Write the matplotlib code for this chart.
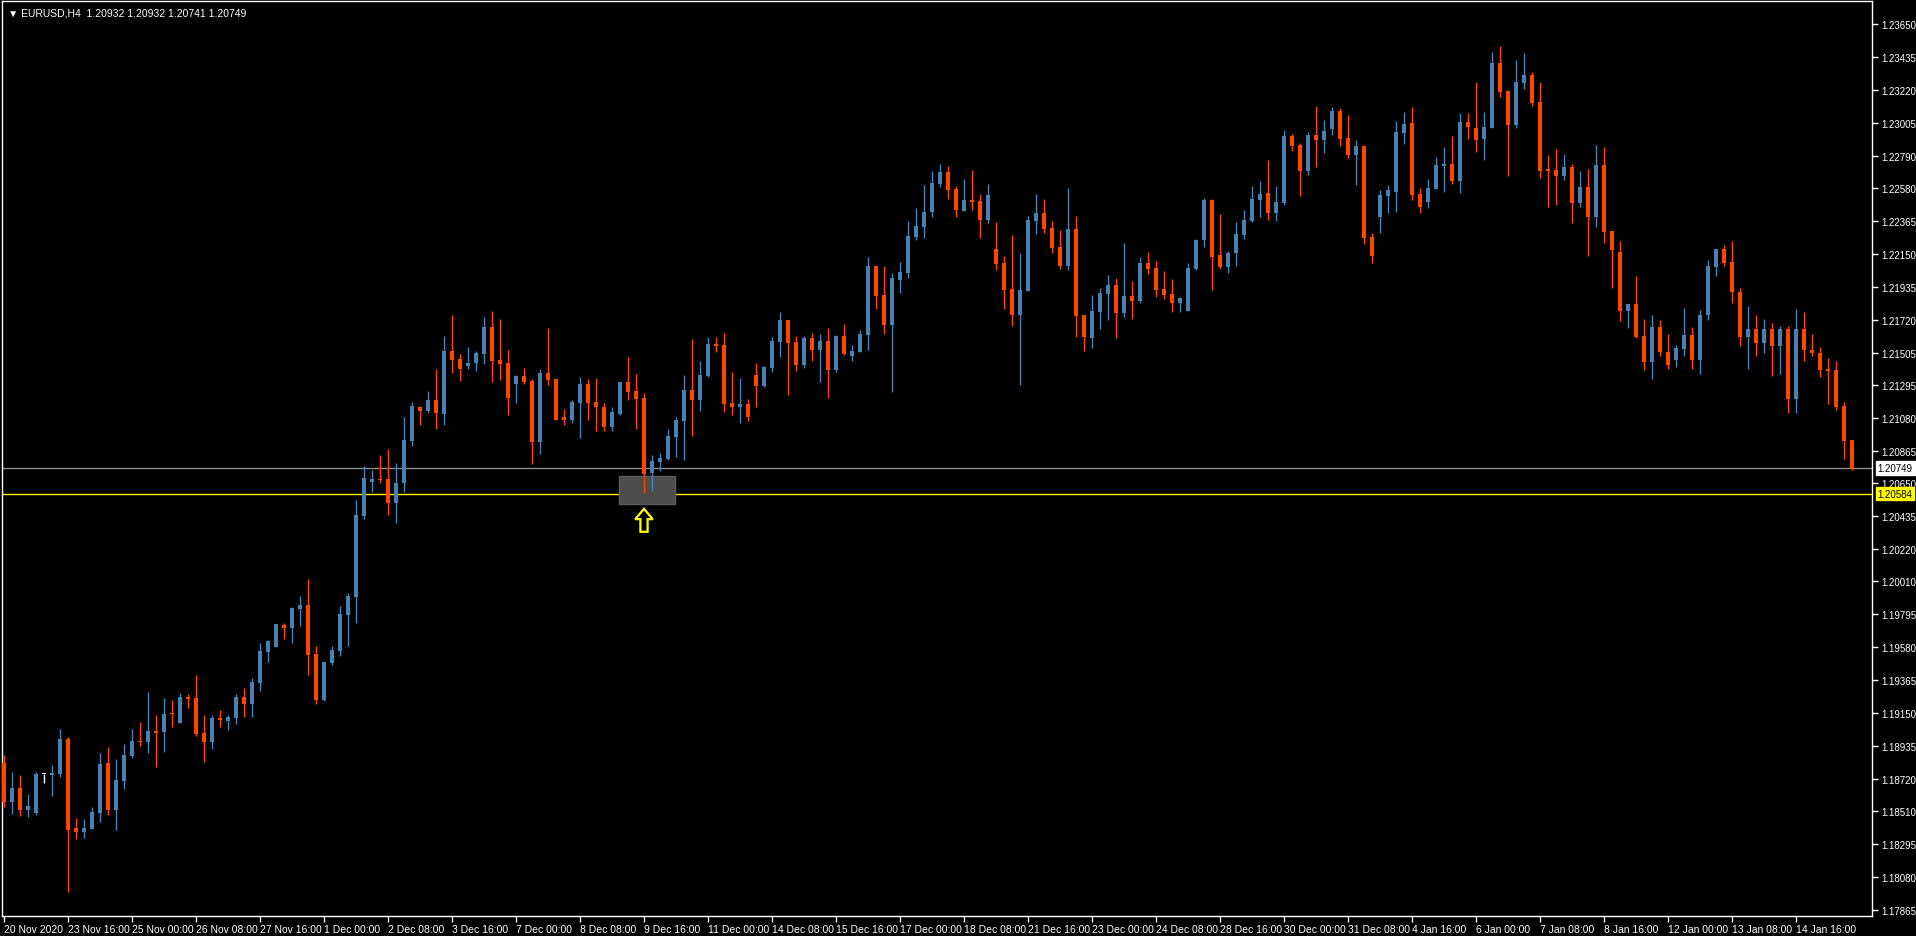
import matplotlib
matplotlib.use("Agg")
import matplotlib.pyplot as plt
import matplotlib.transforms as mtransforms
from matplotlib.patches import Rectangle, Polygon

title = "EURUSD,H4  1.20932 1.20932 1.20741 1.20749"

O = [1.18822,1.18570,1.18659,1.18517,1.18496,1.18751,1.18746,1.18751,1.18979,1.18398,
1.18374,1.18391,1.18496,1.18822,1.18517,1.18707,1.18870,1.18966,1.18960,1.19032,
1.19025,1.19143,1.19084,1.19254,1.19247,1.19019,1.18960,1.19117,1.19097,1.19117,
1.19254,1.19208,1.19345,1.19548,1.19580,1.19724,1.19705,1.19829,1.19855,1.19535,
1.19234,1.19476,1.19554,1.19790,1.19907,1.20437,1.20659,1.20679,1.20679,1.20522,
1.20653,1.20927,1.21149,1.21123,1.21195,1.21104,1.21515,1.21463,1.21417,1.21437,
1.21496,1.21672,1.21457,1.21437,1.21300,1.21352,1.21319,1.20920,1.21372,1.21332,
1.21084,1.21064,1.21175,1.21300,1.21182,1.21149,1.21019,1.21104,1.21313,1.21254,
1.21208,1.20718,1.20790,1.20809,1.20953,1.21058,1.21260,1.21195,1.21352,1.21561,
1.21554,1.21175,1.21149,1.21169,1.21358,1.21286,1.21404,1.21574,1.21718,1.21574,
1.21424,1.21600,1.21522,1.21581,1.21391,1.21613,1.21483,1.21509,1.21620,1.22071,
1.21881,1.21685,1.21979,1.22025,1.22261,1.22326,1.22424,1.22607,1.22686,1.22574,
1.22433,1.22503,1.22496,1.22372,1.22183,1.22091,1.21921,1.21751,1.21908,1.22365,
1.22418,1.22320,1.22196,1.22071,1.22313,1.21751,1.21601,1.21771,1.21888,1.21947,
1.21764,1.21875,1.21843,1.22091,1.22058,1.21921,1.21888,1.21830,1.21777,1.22052,
1.22241,1.22503,1.22143,1.22065,1.22156,1.22274,1.22365,1.22503,1.22548,1.22418,
1.22483,1.22921,1.22862,1.22692,1.22928,1.22895,1.22967,1.23084,1.22908,1.22797,
1.22856,1.22261,1.22392,1.22529,1.22555,1.22941,1.23006,1.22542,1.22490,1.22575,
1.22725,1.22738,1.22627,1.23012,1.22973,1.22901,1.22973,1.23398,1.23215,1.22993,
1.23267,1.23320,1.23143,1.22705,1.22699,1.22659,1.22718,1.22483,1.22588,1.22391,
1.22731,1.22300,1.22163,1.21777,1.21823,1.21614,1.21444,1.21672,1.21509,1.21457,
1.21529,1.21620,1.21457,1.21750,1.22062,1.22183,1.22097,1.21902,1.21605,1.21660,
1.21566,1.21660,1.21551,1.21660,1.21199,1.21660,1.21523,1.21504,1.21398,1.21390,
1.21156,1.20932]

H = [1.18875,1.18761,1.18744,1.18620,1.18761,1.18751,1.18809,1.19045,1.18990,1.18463,
1.18456,1.18535,1.18888,1.18927,1.18849,1.18947,1.19045,1.19091,1.19287,1.19138,
1.19247,1.19234,1.19280,1.19273,1.19398,1.19136,1.19136,1.19169,1.19136,1.19273,
1.19312,1.19378,1.19606,1.19626,1.19731,1.19737,1.19842,1.19914,1.20025,1.19587,
1.19482,1.19587,1.19848,1.19933,1.20541,1.20764,1.20737,1.20836,1.20875,1.20783,
1.21084,1.21182,1.21156,1.21254,1.21398,1.21613,1.21751,1.21496,1.21541,1.21515,
1.21738,1.21777,1.21725,1.21522,1.21358,1.21404,1.21332,1.21398,1.21666,1.21332,
1.21136,1.21195,1.21345,1.21332,1.21339,1.21175,1.21149,1.21313,1.21476,1.21365,
1.21241,1.20836,1.20849,1.21006,1.21084,1.21358,1.21594,1.21450,1.21607,1.21607,
1.21633,1.21378,1.21339,1.21201,1.21437,1.21417,1.21607,1.21770,1.21718,1.21613,
1.21613,1.21633,1.21626,1.21666,1.21620,1.21692,1.21554,1.21653,1.22130,1.22077,
1.22071,1.22025,1.22097,1.22365,1.22450,1.22601,1.22692,1.22738,1.22725,1.22594,
1.22640,1.22699,1.22542,1.22607,1.22359,1.22137,1.22274,1.22156,1.22398,1.22542,
1.22509,1.22366,1.22307,1.22581,1.22398,1.21751,1.21882,1.21928,1.22013,1.21993,
1.22222,1.21973,1.22130,1.22163,1.22104,1.22039,1.21986,1.21869,1.22091,1.22248,
1.22516,1.22509,1.22411,1.22169,1.22359,1.22437,1.22594,1.22627,1.22764,1.22594,
1.22960,1.22934,1.22875,1.22947,1.23117,1.23026,1.23111,1.23104,1.23058,1.22895,
1.22862,1.22287,1.22568,1.22601,1.23019,1.23078,1.23111,1.22581,1.22640,1.22784,
1.22849,1.22921,1.23071,1.23071,1.23274,1.23078,1.23470,1.23509,1.23222,1.23418,
1.23463,1.23339,1.23274,1.22797,1.22836,1.22803,1.22738,1.22692,1.22705,1.22862,
1.22849,1.22300,1.22235,1.21823,1.22006,1.21725,1.21751,1.21718,1.21627,1.21555,
1.21797,1.21672,1.21783,1.22109,1.22183,1.22207,1.22234,1.21925,1.21808,1.21750,
1.21722,1.21699,1.21679,1.21679,1.21789,1.21769,1.21625,1.21543,1.21468,1.21449,
1.21179,1.20932]

L = [1.18535,1.18489,1.18478,1.18472,1.18485,1.18694,1.18609,1.18733,1.17977,1.18326,
1.18332,1.18391,1.18437,1.18483,1.18387,1.18653,1.18855,1.18936,1.18888,1.18796,
1.18894,1.19060,1.19084,1.19182,1.19001,1.18829,1.18914,1.19058,1.19038,1.19077,
1.19123,1.19123,1.19293,1.19482,1.19580,1.19633,1.19606,1.19718,1.19397,1.19208,
1.19228,1.19463,1.19522,1.19587,1.19737,1.20417,1.20594,1.20653,1.20443,1.20391,
1.20594,1.20894,1.21032,1.21110,1.21006,1.21032,1.21372,1.21319,1.21398,1.21385,
1.21430,1.21313,1.21326,1.21097,1.21175,1.21300,1.20777,1.20842,1.21293,1.21064,
1.21032,1.21045,1.20947,1.21064,1.20992,1.20992,1.20992,1.21097,1.21195,1.21006,
1.20587,1.20600,1.20731,1.20803,1.20822,1.20803,1.20960,1.21123,1.21345,1.21509,
1.21117,1.21097,1.21045,1.21058,1.21149,1.21280,1.21378,1.21476,1.21228,1.21385,
1.21404,1.21450,1.21313,1.21208,1.21378,1.21489,1.21450,1.21509,1.21522,1.21790,
1.21626,1.21247,1.21894,1.21992,1.22241,1.22254,1.22391,1.22588,1.22509,1.22391,
1.22433,1.22437,1.22254,1.22352,1.22045,1.21790,1.21679,1.21294,1.21908,1.22281,
1.22287,1.22156,1.22052,1.22045,1.21607,1.21516,1.21535,1.21660,1.21718,1.21601,
1.21738,1.21725,1.21830,1.22019,1.21869,1.21856,1.21771,1.21771,1.21777,1.22045,
1.22195,1.21914,1.22052,1.22025,1.22071,1.22248,1.22359,1.22392,1.22372,1.22365,
1.22470,1.22823,1.22529,1.22666,1.22718,1.22810,1.22928,1.22856,1.22777,1.22601,
1.22215,1.22091,1.22287,1.22418,1.22424,1.22869,1.22503,1.22418,1.22450,1.22575,
1.22555,1.22607,1.22548,1.22901,1.22816,1.22764,1.22973,1.23176,1.22659,1.22973,
1.23228,1.23117,1.22646,1.22457,1.22470,1.22633,1.22352,1.22457,1.22136,1.22326,
1.22222,1.21927,1.21712,1.21666,1.21600,1.21391,1.21332,1.21483,1.21398,1.21411,
1.21483,1.21398,1.21365,1.21719,1.22008,1.22074,1.21828,1.21547,1.21398,1.21484,
1.21504,1.21355,1.21363,1.21109,1.21109,1.21453,1.21484,1.21347,1.21172,1.21133,
1.20812,1.20741]

C = [1.18570,1.18659,1.18517,1.18541,1.18751,1.18751,1.18757,1.18979,1.18387,1.18374,
1.18398,1.18502,1.18816,1.18517,1.18711,1.18875,1.18966,1.18962,1.19032,1.19021,
1.19143,1.19140,1.19254,1.19243,1.19012,1.18960,1.19117,1.19104,1.19123,1.19254,
1.19208,1.19352,1.19554,1.19620,1.19731,1.19705,1.19835,1.19855,1.19528,1.19234,
1.19482,1.19561,1.19796,1.19914,1.20443,1.20685,1.20679,1.20672,1.20522,1.20653,
1.20934,1.21156,1.21123,1.21195,1.21110,1.21515,1.21457,1.21398,1.21437,1.21502,
1.21672,1.21450,1.21430,1.21208,1.21352,1.21313,1.20920,1.21372,1.21326,1.21064,
1.21064,1.21182,1.21300,1.21175,1.21149,1.21019,1.21117,1.21313,1.21247,1.21202,
1.20711,1.20796,1.20816,1.20960,1.21064,1.21260,1.21195,1.21358,1.21561,1.21548,
1.21169,1.21149,1.21169,1.21084,1.21286,1.21411,1.21581,1.21718,1.21568,1.21424,
1.21600,1.21522,1.21581,1.21391,1.21613,1.21496,1.21515,1.21626,1.22071,1.21875,
1.21685,1.21992,1.22032,1.22269,1.22333,1.22424,1.22614,1.22686,1.22568,1.22437,
1.22503,1.22492,1.22372,1.22536,1.22085,1.21915,1.21751,1.21915,1.22372,1.22418,
1.22313,1.22189,1.22071,1.22313,1.21745,1.21607,1.21777,1.21895,1.21947,1.21764,
1.21875,1.21843,1.22091,1.22052,1.21915,1.21882,1.21830,1.21862,1.22058,1.22241,
1.22503,1.22130,1.22065,1.22156,1.22280,1.22372,1.22509,1.22542,1.22418,1.22490,
1.22921,1.22856,1.22692,1.22928,1.22895,1.22954,1.23084,1.22901,1.22797,1.22856,
1.22254,1.22137,1.22535,1.22568,1.22947,1.22999,1.22535,1.22457,1.22581,1.22731,
1.22738,1.22627,1.23012,1.22980,1.22895,1.22980,1.23398,1.23209,1.22993,1.23274,
1.23320,1.23137,1.22692,1.22692,1.22659,1.22718,1.22483,1.22588,1.22391,1.22731,
1.22293,1.22176,1.21777,1.21823,1.21607,1.21444,1.21672,1.21509,1.21424,1.21535,
1.21620,1.21457,1.21751,1.22070,1.22183,1.22093,1.21898,1.21605,1.21660,1.21566,
1.21660,1.21551,1.21660,1.21199,1.21660,1.21519,1.21504,1.21394,1.21386,1.21148,
1.20929,1.20749]

ytick_values = [1.23650,1.23435,1.23220,1.23005,1.22790,1.22580,1.22365,1.22150,1.21935,
                1.21720,1.21505,1.21295,1.21080,1.20865,1.20650,1.20435,1.20220,1.20010,
                1.19795,1.19580,1.19365,1.19150,1.18935,1.18720,1.18510,1.18295,1.18080,1.17865]
xtick_labels = ["20 Nov 2020","23 Nov 16:00","25 Nov 00:00","26 Nov 08:00","27 Nov 16:00",
                "1 Dec 00:00","2 Dec 08:00","3 Dec 16:00","7 Dec 00:00","8 Dec 08:00",
                "9 Dec 16:00","11 Dec 00:00","14 Dec 08:00","15 Dec 16:00","17 Dec 00:00",
                "18 Dec 08:00","21 Dec 16:00","23 Dec 00:00","24 Dec 08:00","28 Dec 16:00",
                "30 Dec 00:00","31 Dec 08:00","4 Jan 16:00","6 Jan 00:00","7 Jan 08:00",
                "8 Jan 16:00","12 Jan 00:00","13 Jan 08:00","14 Jan 16:00"]
xtick_step = 8

bid_price = 1.20749
level_price = 1.20584
zone_start, zone_end = 76.9, 83.9
zone_low, zone_high = 1.20517, 1.20701
arrow_index = 80
arrow_top, arrow_bottom = 1.20484, 1.20334

BLUE = "#4682B4"
ORANGE = "#FF4500"
NARROW = ["Liberation Sans Narrow", "Liberation Sans", "DejaVu Sans"]
SANS = ["Liberation Sans", "DejaVu Sans"]

fig = plt.figure(figsize=(19.16, 9.37), dpi=100, facecolor="black")
ax = fig.add_axes([2/1916, 20/937, 1870/1916, 915/937], facecolor="black")
ax.set_xlim(-0.25, 233.5)
ax.set_ylim(1.17823, 1.23803)

n = len(O)
xs = list(range(n))
cols = []
for o, c in zip(O, C):
    cols.append(BLUE if c > o else (ORANGE if c < o else "white"))
ax.vlines(xs, L, H, colors=cols, linewidth=1.0, zorder=3)
bottoms = [min(o, c) for o, c in zip(O, C)]
heights = [max(abs(c - o), 0.00007) for o, c in zip(O, C)]
ax.bar(xs, heights, bottom=bottoms, width=0.62, color=cols, linewidth=0, zorder=4)

ax.axhline(bid_price, color="#8c8c8c", lw=1.0, zorder=2)
ax.axhline(level_price, color="#FFFF00", lw=1.0, zorder=2)
ax.add_patch(Rectangle((zone_start, zone_low), zone_end - zone_start, zone_high - zone_low,
                       facecolor="#4d4d4d", edgecolor="#5c5c5c", lw=1, zorder=2.5))
hw, sw = 1.1, 0.45
hh = (arrow_top - arrow_bottom) * 0.45
arrow = Polygon([(arrow_index, arrow_top), (arrow_index + hw, arrow_top - hh),
                 (arrow_index + sw, arrow_top - hh), (arrow_index + sw, arrow_bottom),
                 (arrow_index - sw, arrow_bottom), (arrow_index - sw, arrow_top - hh),
                 (arrow_index - hw, arrow_top - hh)], closed=True,
                facecolor="none", edgecolor="#FFFF00", lw=1.6, zorder=5)
ax.add_patch(arrow)

for s in ax.spines.values():
    s.set_color("white")
    s.set_linewidth(1.0)

ax.yaxis.tick_right()
ax.set_yticks(ytick_values)
ax.set_yticklabels([f"{v:.5f}" for v in ytick_values])
ax.tick_params(axis="y", colors="white", length=4, width=1, pad=3)
for lab in ax.get_yticklabels():
    lab.set_fontfamily(SANS)
    lab.set_fontsize(7)
ax.set_xticks([i * xtick_step for i in range(len(xtick_labels))])
ax.set_xticklabels(xtick_labels)
ax.tick_params(axis="x", colors="white", length=4, width=1, pad=2)
for lab in ax.get_xticklabels():
    lab.set_horizontalalignment("left")
    lab.set_fontfamily(NARROW)
    lab.set_fontsize(7.5)

trans = mtransforms.blended_transform_factory(ax.transAxes, ax.transData)
ax.text(1.003, bid_price, f"{bid_price:.5f}", transform=trans, fontsize=7, family=SANS,
        color="black", va="center", ha="left",
        bbox=dict(boxstyle="square,pad=0.2", fc="white", ec="white"), zorder=6)
ax.text(1.003, level_price, f"{level_price:.5f}", transform=trans, fontsize=7, family=SANS,
        color="black", va="center", ha="left",
        bbox=dict(boxstyle="square,pad=0.2", fc="#FFFF00", ec="#FFFF00"), zorder=6)

ax.text(0.003, 0.993, "\u25bc " + title, transform=ax.transAxes, fontsize=7.5, color="white",
        family=SANS + ["DejaVu Sans"], va="top", ha="left")

fig.savefig("out.png", dpi=100, facecolor="black")
